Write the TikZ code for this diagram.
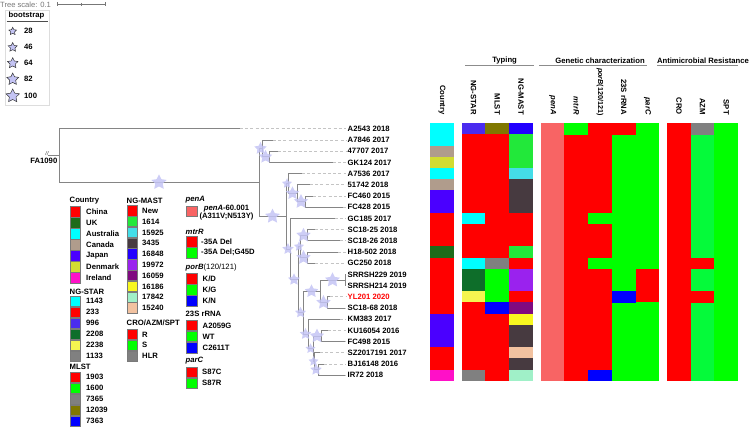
\documentclass[tikz,border=0pt]{standalone}
\usepackage{fontspec}
\setmainfont{Liberation Sans}
\usetikzlibrary{shapes.geometric,calc}
\definecolor{cChi}{HTML}{FF0000}
\definecolor{cUK}{HTML}{1E6B1A}
\definecolor{cAus}{HTML}{00FFFF}
\definecolor{cCan}{HTML}{B09C8C}
\definecolor{cJpn}{HTML}{4A00FF}
\definecolor{cDen}{HTML}{D2DC32}
\definecolor{cIre}{HTML}{FF10C8}
\definecolor{sCya}{HTML}{00FFFF}
\definecolor{sRed}{HTML}{FF0000}
\definecolor{sVio}{HTML}{4A2BEF}
\definecolor{sDgr}{HTML}{0E6E2A}
\definecolor{sYel}{HTML}{F5F550}
\definecolor{sGry}{HTML}{808080}
\definecolor{mRed}{HTML}{FF0000}
\definecolor{mGrn}{HTML}{00FF00}
\definecolor{mGry}{HTML}{808080}
\definecolor{mOlv}{HTML}{807800}
\definecolor{mBlu}{HTML}{0000FF}
\definecolor{nNew}{HTML}{FF0000}
\definecolor{nA}{HTML}{22E83A}
\definecolor{nB}{HTML}{44DDE8}
\definecolor{nC}{HTML}{473A40}
\definecolor{nD}{HTML}{2200FF}
\definecolor{nE}{HTML}{9A22EE}
\definecolor{nF}{HTML}{800A80}
\definecolor{nG}{HTML}{F8F820}
\definecolor{nH}{HTML}{A0F0C8}
\definecolor{nI}{HTML}{F2C2A0}
\definecolor{gRed}{HTML}{FF0000}
\definecolor{gGrn}{HTML}{00FF00}
\definecolor{gBlu}{HTML}{0000FF}
\definecolor{gGry}{HTML}{808080}
\definecolor{azG}{HTML}{05FA3A}
\definecolor{penS}{HTML}{F86464}
\definecolor{treeG}{HTML}{858585}
\definecolor{leadG}{HTML}{C4C4C4}
\definecolor{starF}{HTML}{C4C4F4}
\definecolor{swB}{HTML}{7A7A7A}
\definecolor{boxG}{HTML}{DDDDDD}
\definecolor{scaleG}{HTML}{777777}
\newcommand\mylab{\fontsize{7.7}{9}\selectfont\bfseries}
\newcommand\hcol[2]{\foreach \cc [count=\ii from 0] in {#2} {\fill[\cc] (#1,{123.3+11.2*\ii}) rectangle ++(23.9,11.3);}}
\newcommand\hfull[2]{\fill[#2] (#1,123.3) rectangle ++(23.9,257.6);}
\newcommand\hcell[3]{\fill[#3] (#1,{123.3+11.2*#2}) rectangle ++(23.9,11.3);}
\begin{document}
\begin{tikzpicture}[x=1pt,y=-1pt,
 brn/.style={draw=treeG,line width=0.9pt},
 ldr/.style={draw=leadG,line width=0.8pt,dash pattern=on 3pt off 2.2pt},
 leaf/.style={anchor=west,inner sep=1.5pt,font=\mylab},
 bs/.style={star,star points=5,star point ratio=2.0,fill=starF,fill opacity=0.85,draw=none,inner sep=0pt,minimum size=#1},
 bsl/.style={star,star points=5,star point ratio=2.0,fill=starF,draw=black!80,line width=0.5pt,inner sep=0pt,minimum size=#1},
 sw/.style={draw=swB,line width=0.6pt,fill=#1,minimum width=10.6pt,minimum height=10.4pt,inner sep=0pt},
 lg/.style={anchor=west,inner sep=0pt,font=\mylab},
 ttl/.style={anchor=west,inner sep=0pt,font=\mylab},
 hdr/.style={rotate=-90,anchor=east,inner sep=0pt,font=\mylab},
 grp/.style={draw=black!45,line width=0.8pt}]
\useasboundingbox (0,0) rectangle (752,427);

% ---------- tree scale ----------
\node[anchor=west,inner sep=0pt,text=scaleG,font=\fontsize{7.6}{8}\selectfont] (tscale) at (0,4.3) {Tree scale: 0.1};
\coordinate (sb1) at (57.5,4.3); \coordinate (sb2) at (81.2,4.3); \coordinate (sb3) at (105,4.3);
\draw[scaleG,line width=0.6pt] (sb1) -- (sb3);
\draw[scaleG,line width=0.6pt] ($(sb1)+(0,-2)$) -- ($(sb1)+(0,2)$);
\draw[scaleG,line width=0.6pt] ($(sb2)+(0,-1.5)$) -- ($(sb2)+(0,1.5)$);
\draw[scaleG,line width=0.6pt] ($(sb3)+(0,-2)$) -- ($(sb3)+(0,2)$);

% ---------- bootstrap legend ----------
\node[draw=boxG,line width=0.6pt,minimum width=44pt,minimum height=95pt,inner sep=0pt,anchor=north west] (bsbox) at (5,10) {};
\node[inner sep=0pt,font=\mylab] (bstitle) at (26.5,15.3) {bootstrap};
\draw[line width=1.2pt,draw=black!70] (6.5,21.7) -- (47.5,21.7);
\foreach \v/\yy/\s [count=\k] in {28/31.3/8,46/47.3/9.5,64/63.2/11,82/79.3/12.5,100/96/14}{
  \node[bsl=\s] (bss\k) at (12.7,\yy) {};
  \node[lg] (bsv\k) at (24,\yy) {\v};
}

% ---------- tree ----------
\coordinate (fastub) at (47.5,155.65);
\coordinate (R) at (59,155.65);
\coordinate (Nc) at (259,182.4);
\coordinate (Nb) at (262,148.5);
\coordinate (Na) at (269,156.9);
\coordinate (Nd) at (286,216.3);
\coordinate (Ng) at (288,183.5);
\coordinate (Nf) at (297,193.3);
\coordinate (Ne) at (305,201.7);
\coordinate (Ni) at (290,249.05);
\coordinate (Nj) at (298,279.6);
\coordinate (Nm) at (300,246.5);
\coordinate (Nk) at (307,235.3);
\coordinate (Nl) at (307,257.7);
\coordinate (Nq) at (303,312.65);
\coordinate (No) at (320,291.3);
\coordinate (Nn) at (345,280.1);
\coordinate (Np) at (327,302.5);
\coordinate (Nt) at (308,334);
\coordinate (Nu) at (313,348.7);
\coordinate (Nr) at (321,336.1);
\coordinate (Nv) at (314,361.3);
\coordinate (Ns) at (318,369.7);

\draw[brn] (fastub) -- (R);
\node[inner sep=0pt,text=black!80,font=\fontsize{5.5}{6}\selectfont\itshape] (brk) at (47,153.6) {//};
\node[anchor=east,inner sep=0pt,font=\mylab] (fa) at (57.5,160.7) {FA1090};

\foreach \a/\b in {R/Nc,Nc/Nb,Nb/Na,Nc/Nd,Nd/Ng,Ng/Nf,Nf/Ne,Nd/Ni,Ni/Nj,Nj/Nm,Nm/Nk,Nm/Nl,Nj/Nq,Nq/No,No/Nn,No/Np,Nq/Nt,Nt/Nu,Nu/Nr,Nu/Nv,Nv/Ns}{
  \draw[brn] (\a) |- (\b);
}

\foreach \i/\p/\tx/\tc/\nm in {
 0/R/240/black/A2543 2018,
 1/Nb/273/black/A7846 2017,
 2/Na/278/black/47707 2017,
 3/Na/333/black/GK124 2017,
 4/Ng/302/black/A7536 2017,
 5/Nf/310/black/51742 2018,
 6/Ne/313/black/FC460 2015,
 7/Ne/343/black/FC428 2015,
 8/Ni/335/black/GC185 2017,
 9/Nk/315/black/SC18-25 2018,
 10/Nk/340/black/SC18-26 2018,
 11/Nl/338/black/H18-502 2018,
 12/Nl/315/black/GC250 2018,
 13/Nn/346/black/SRRSH229 2019,
 14/Nn/346/black/SRRSH214 2019,
 15/Np/330/red/YL201 2020,
 16/Np/345/black/SC18-68 2018,
 17/Nt/340/black/KM383 2017,
 18/Nr/328/black/KU16054 2016,
 19/Nr/345/black/FC498 2015,
 20/Nv/320/black/SZ2017191 2017,
 21/Ns/324/black/BJ16148 2016,
 22/Ns/345/black/IR72 2018}{
  \coordinate (e\i) at (\tx,{128.9+11.2*\i});
  \node[leaf,text=\tc] (L\i) at (346,{128.9+11.2*\i}) {\nm};
  \draw[brn] (\p) |- (e\i);
  \draw[ldr] (e\i) -- (L\i.west);
}

\foreach \a/\b/\s in {R/Nc/16,Nc/Nb/13,Nb/Na/14,Nc/Nd/15.5,Nd/Ng/10.5,Ng/Nf/14,Nf/Ne/15,Nd/Ni/12,Ni/Nj/12.5,Nj/Nm/10.5,Nm/Nk/15,Nm/Nl/15,Nj/Nq/11.5,Nq/No/14,No/Nn/15.5,No/Np/15,Nq/Nt/12,Nt/Nu/10.5,Nu/Nr/15,Nu/Nv/10.5,Nv/Ns/12}{
  \node[bs=\s] (st\a\b) at ($(\a |- \b)!0.5!(\b)$) {};
}

% ---------- legends ----------
\node[ttl] (tCountry) at (69.5,201) {Country};
\foreach \col/\txt [count=\k] in {cChi/China,cUK/UK,cAus/Australia,cCan/Canada,cJpn/Japan,cDen/Denmark,cIre/Ireland}{
  \node[sw=\col] (ctys\k) at (75.3,{212+10.95*(\k-1)}) {};
  \node[lg] (ctyt\k) at (86,{212+10.95*(\k-1)}) {\txt};
}
\node[ttl] (tStar) at (69.5,291.5) {NG-STAR};
\foreach \col/\txt [count=\k] in {sCya/1143,sRed/233,sVio/996,sDgr/2208,sYel/2238,sGry/1133}{
  \node[sw=\col] (stars\k) at (75.3,{301.2+11*(\k-1)}) {};
  \node[lg] (start\k) at (86,{301.2+11*(\k-1)}) {\txt};
}
\node[ttl] (tMlst) at (69.5,366.7) {MLST};
\foreach \col/\txt [count=\k] in {mRed/1903,mGrn/1600,mGry/7365,mOlv/12039,mBlu/7363}{
  \node[sw=\col] (mlsts\k) at (75.3,{377+11.05*(\k-1)}) {};
  \node[lg] (mlstt\k) at (86,{377+11.05*(\k-1)}) {\txt};
}
\node[ttl] (tMast) at (126.5,201) {NG-MAST};
\foreach \col/\txt [count=\k] in {nNew/New,nA/1614,nB/15925,nC/3435,nD/16848,nE/19972,nF/16059,nG/16186,nH/17842,nI/15240}{
  \node[sw=\col] (masts\k) at (132.2,{210.8+10.8*(\k-1)}) {};
  \node[lg] (mastt\k) at (142,{210.8+10.8*(\k-1)}) {\txt};
}
\node[ttl] (tCro) at (126.5,322.3) {CRO/AZM/SPT};
\foreach \col/\txt [count=\k] in {gRed/R,gGrn/S,gGry/HLR}{
  \node[sw=\col] (cros\k) at (132.2,{334.5+10.8*(\k-1)}) {};
  \node[lg] (crot\k) at (142,{334.5+10.8*(\k-1)}) {\txt};
}
% right legend column
\node[ttl] (tPenA) at (185.5,200) {\itshape penA};
\node[sw=penS] (pens1) at (191.8,211.3) {};
\node[inner sep=0pt,font=\mylab,align=center] (pent1) at (226.5,213) {\textit{penA}-60.001\\[-1.2pt](A311V;N513Y)};
\node[ttl] (tMtr) at (185.5,232.3) {\itshape mtrR};
\node[sw=gRed] (mtrs1) at (191.8,242) {};
\node[lg] (mtrt1) at (201,242) {-35A Del};
\node[sw=gGrn] (mtrs2) at (191.8,252.8) {};
\node[lg] (mtrt2) at (201,252.8) {-35A Del;G45D};
\node[ttl] (tPor) at (185.5,267.3) {\textit{porB}\mdseries(120/121)};
\node[sw=gRed] (pors1) at (191.8,279) {};
\node[lg] (port1) at (202.5,279) {K/D};
\node[sw=gGrn] (pors2) at (191.8,290) {};
\node[lg] (port2) at (202.5,290) {K/G};
\node[sw=gBlu] (pors3) at (191.8,301) {};
\node[lg] (port3) at (202.5,301) {K/N};
\node[ttl] (tRna) at (185.5,314) {23S rRNA};
\node[sw=gRed] (rnas1) at (191.8,325.5) {};
\node[lg] (rnat1) at (202.5,325.5) {A2059G};
\node[sw=gGrn] (rnas2) at (191.8,336.6) {};
\node[lg] (rnat2) at (202.5,336.6) {WT};
\node[sw=gBlu] (rnas3) at (191.8,347.7) {};
\node[lg] (rnat3) at (202.5,347.7) {C2611T};
\node[ttl] (tPar) at (185.5,360.7) {\itshape parC};
\node[sw=gRed] (pars1) at (191.8,372.2) {};
\node[lg] (part1) at (202,372.2) {S87C};
\node[sw=gGrn] (pars2) at (191.8,383.3) {};
\node[lg] (part2) at (202,383.3) {S87R};

% ---------- heatmap ----------
\hcol{430}{cAus,cAus,cCan,cDen,cAus,cCan,cJpn,cJpn,cChi,cChi,cChi,cUK,cChi,cChi,cChi,cChi,cChi,cJpn,cJpn,cJpn,cChi,cChi,cIre}
\hcol{461.7}{sVio,sRed,sRed,sRed,sRed,sRed,sRed,sRed,sCya,sRed,sRed,sRed,sCya,sDgr,sDgr,sYel,sRed,sRed,sRed,sRed,sRed,sRed,sGry}
\hcol{485.4}{mOlv,mRed,mRed,mRed,mRed,mRed,mRed,mRed,mRed,mRed,mRed,mRed,mGry,mGrn,mGrn,mGrn,mBlu,mRed,mRed,mRed,mRed,mRed,mRed}
\hcol{509.1}{nD,nA,nA,nA,nB,nC,nC,nC,nNew,nNew,nNew,nA,nNew,nE,nE,nNew,nF,nG,nC,nC,nI,nC,nH}
\hfull{540.7}{penS}
\hfull{564.4}{gRed} \hcell{564.4}{0}{gGrn}
\hfull{588.1}{gRed} \hcell{588.1}{8}{gGrn} \hcell{588.1}{12}{gGrn} \hcell{588.1}{22}{gBlu}
\hfull{611.8}{gGrn} \hcell{611.8}{0}{gRed} \hcell{611.8}{15}{gBlu}
\fill[gGrn] (635.5,123.3) rectangle ++(23.7,257.6);
\fill[gRed] (635.5,{123.3+11.2*13}) rectangle ++(23.7,33.6);
\hfull{667}{gRed}
\hfull{690.7}{azG} \hcell{690.7}{0}{gGry} \hcell{690.7}{12}{gRed} \hcell{690.7}{15}{gRed}
\fill[gGrn] (714.4,123.3) rectangle ++(23.7,257.6);

% ---------- headers ----------
\node[hdr] (hCountry) at (441.9,115) {Country};
\node[hdr] (hStar) at (473.6,115) {NG-STAR};
\node[hdr] (hMlst) at (497.3,115) {MLST};
\node[hdr] (hMast) at (521,115) {NG-MAST};
\node[hdr] (hPen) at (552.6,115) {\itshape penA};
\node[hdr] (hMtr) at (576.3,115) {\itshape mtrR};
\node[hdr,font=\fontsize{7.2}{9}\selectfont\bfseries] (hPor) at (600,116) {\textit{porB}(120/121)};
\node[hdr] (hRna) at (623.7,115) {23S rRNA};
\node[hdr] (hPar) at (647.4,115) {\itshape parC};
\node[hdr] (hCro) at (678.9,115) {CRO};
\node[hdr] (hAzm) at (702.6,115) {AZM};
\node[hdr] (hSpt) at (726.3,115) {SPT};

\node[inner sep=0pt,font=\mylab] (gTyp) at (504.6,60.7) {Typing};
\node[inner sep=0pt,font=\mylab] (gGen) at (600,60.7) {Genetic characterization};
\node[anchor=west,inner sep=0pt,font=\mylab] (gAmr) at (656.8,60.7) {Antimicrobial Resistance};
\coordinate (ty1) at (465,65); \coordinate (ty2) at (534,65);
\coordinate (ge1) at (539,65); \coordinate (ge2) at (647,65);
\coordinate (am1) at (657,65); \coordinate (am2) at (738,65);
\draw[grp] (ty1) -- (ty2);
\draw[grp] (ge1) -- (ge2);
\draw[grp] (am1) -- (am2);
\end{tikzpicture}
\end{document}
